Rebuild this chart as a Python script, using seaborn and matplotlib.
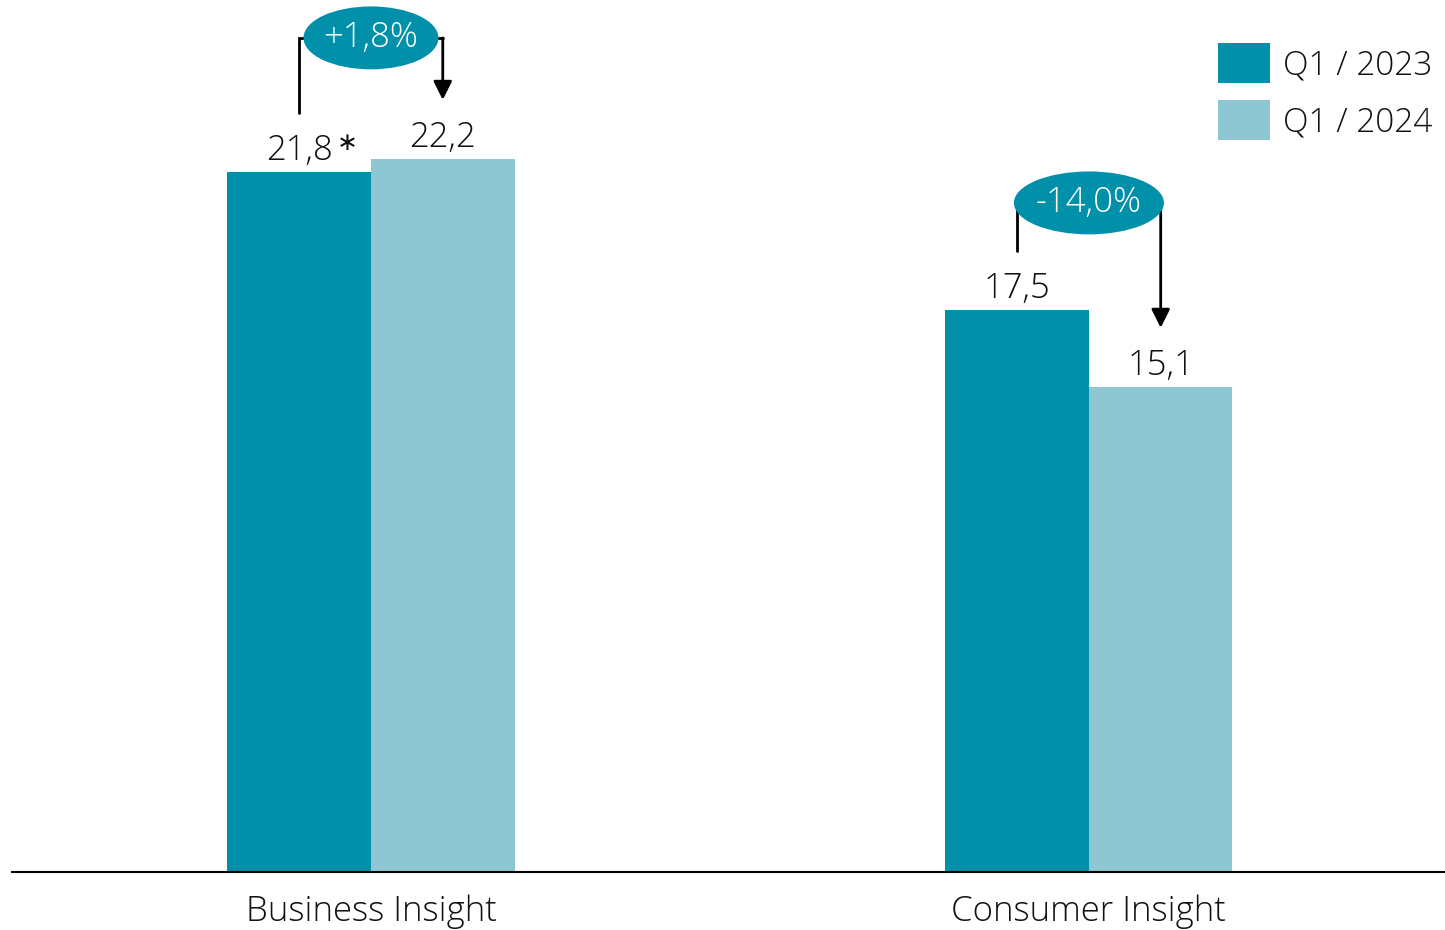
import matplotlib
matplotlib.use("Agg")
import matplotlib.pyplot as plt
from matplotlib.patches import Ellipse
import seaborn as sns
import pandas as pd

categories = ["Business Insight", "Consumer Insight"]
periods = ["Q1 / 2023", "Q1 / 2024"]
values_2023 = [21.8, 17.5]
values_2024 = [22.2, 15.1]
change_labels = ["+1,8%", "-14,0%"]
label_suffix_2023 = ["*", ""]

colors = ["#0090AA", "#8FC6D3"]

sns.set_theme(style="white")
plt.rcParams["font.family"] = ["Open Sans", "DejaVu Sans"]
FW = 300
FS = 25
TC = "#111111"

df = pd.DataFrame({
    "category": categories * 2,
    "period": [periods[0]] * 2 + [periods[1]] * 2,
    "value": values_2023 + values_2024,
})

fig = plt.figure(figsize=(14.45, 9.3), dpi=100)
ax = fig.add_axes([12 / 1445, 58 / 930, 1 - 12 / 1445, 1 - 58 / 930])

sns.barplot(data=df, x="category", y="value", hue="period", order=categories,
            hue_order=periods, palette=colors, saturation=1, width=0.4,
            errorbar=None, ax=ax, linewidth=0, gap=0)

ax.set_xlim(-0.5, 1.496)
ax.set_ylim(0, 27.16)
for s in ["left", "right", "top"]:
    ax.spines[s].set_visible(False)
ax.spines["bottom"].set_color("black")
ax.spines["bottom"].set_linewidth(1.5)
ax.set_yticks([])
ax.set_xlabel("")
ax.set_ylabel("")
ax.tick_params(axis="x", length=0, pad=16, labelsize=FS)
for t in ax.get_xticklabels():
    t.set_fontweight(FW)
    t.set_color(TC)

fmt = lambda v: f"{v:.1f}".replace(".", ",")
for cont, vals in zip(ax.containers, [values_2023, values_2024]):
    ax.bar_label(cont, labels=[fmt(v) for v in vals], padding=3,
                 fontsize=FS, fontweight=FW, color=TC)

# asterisk
for i, suf in enumerate(label_suffix_2023):
    if suf:
        ax.annotate("∗", xy=(i - 0.1, values_2023[i]), xytext=(35, 21),
                    textcoords="offset points", ha="center", va="center",
                    fontsize=18, family="DejaVu Sans", color=TC)

# change bubbles
bubble_y = [25.98, 20.84]
bubble_w = [0.188, 0.209]
bubble_h = [1.96, 1.96]
for i in range(len(categories)):
    xl, xr = i - 0.1, i + 0.1
    yb = bubble_y[i]
    left_bottom = values_2023[i] + 1.85
    tip = values_2024[i] + 1.85
    ax.plot([xl, xl, xr], [left_bottom, yb, yb], color="black", lw=2, zorder=3,
            solid_joinstyle="miter")
    ax.annotate("", xy=(xr, tip), xytext=(xr, yb),
                arrowprops=dict(arrowstyle="-|>", color="black", lw=2,
                                mutation_scale=28, shrinkA=0, shrinkB=0),
                zorder=3)
    e = Ellipse((i, yb), bubble_w[i], bubble_h[i], facecolor=colors[0],
                edgecolor="none", zorder=4)
    ax.add_patch(e)
    ax.text(i, yb, change_labels[i], ha="center", va="center", color="white",
            fontsize=FS, fontweight=FW, zorder=5)

leg = ax.legend(loc="upper right", bbox_to_anchor=(1432 / 1445, 1 - 43 / 930),
                bbox_transform=fig.transFigure, frameon=False, fontsize=24,
                handlelength=1.56, handleheight=1.48, handletextpad=0.38,
                labelspacing=0.5, borderpad=0, borderaxespad=0)
for t in leg.get_texts():
    t.set_fontweight(FW)
    t.set_color(TC)

fig.savefig("out.png", dpi=100)
